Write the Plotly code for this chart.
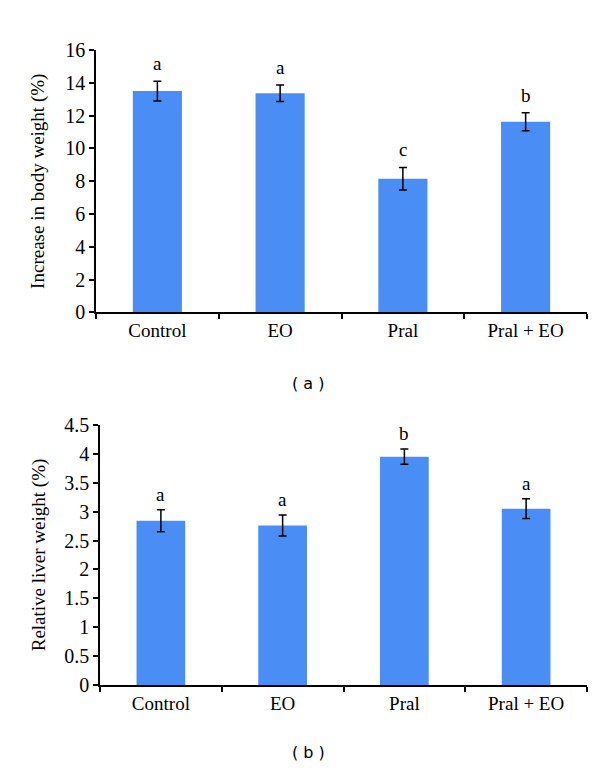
import plotly.graph_objects as go

categories = ["Control", "EO", "Pral", "Pral + EO"]

body_weight = [13.5, 13.37, 8.15, 11.63]
body_weight_err = [0.6, 0.5, 0.69, 0.55]
body_weight_letters = ["a", "a", "c", "b"]

liver_weight = [2.84, 2.76, 3.95, 3.05]
liver_weight_err = [0.19, 0.18, 0.13, 0.17]
liver_weight_letters = ["a", "a", "b", "a"]

bar_color = "#4a8ef5"
serif = "Liberation Serif, Times New Roman, serif"
FS = 19

fig = go.Figure()

fig.add_trace(go.Bar(
    x=categories, y=body_weight, width=0.4,
    marker=dict(color=bar_color, line=dict(width=0)),
    error_y=dict(type="data", array=body_weight_err, color="black", thickness=1.5, width=4),
    xaxis="x", yaxis="y", showlegend=False,
))
fig.add_trace(go.Bar(
    x=categories, y=liver_weight, width=0.4,
    marker=dict(color=bar_color, line=dict(width=0)),
    error_y=dict(type="data", array=liver_weight_err, color="black", thickness=1.5, width=4),
    xaxis="x2", yaxis="y2", showlegend=False,
))

annotations = []
for c, v, e, t in zip(categories, body_weight, body_weight_err, body_weight_letters):
    annotations.append(dict(x=c, y=v + e, xref="x", yref="y", text=t, showarrow=False,
                            yanchor="bottom", yshift=5, font=dict(family=serif, size=FS, color="black")))
for c, v, e, t in zip(categories, liver_weight, liver_weight_err, liver_weight_letters):
    annotations.append(dict(x=c, y=v + e, xref="x2", yref="y2", text=t, showarrow=False,
                            yanchor="bottom", yshift=3, font=dict(family=serif, size=FS, color="black")))

annotations.append(dict(x=0.5, y=1 - 375 / 773, xref="paper", yref="paper", text="( a )",
                        yanchor="middle", showarrow=False,
                        font=dict(family="DejaVu Sans, Arial, sans-serif", size=16, color="black")))
annotations.append(dict(x=0.5, y=1 - 755 / 773, xref="paper", yref="paper", text="( b )",
                        yanchor="middle", showarrow=False,
                        font=dict(family="DejaVu Sans, Arial, sans-serif", size=16, color="black")))

axis_common = dict(showline=True, linecolor="black", linewidth=1.5, ticks="outside",
                   tickcolor="black", tickwidth=1.5, showgrid=False, zeroline=False)
xfont = dict(family=serif, size=FS, color="black")
yfont = dict(family=serif, size=20, color="black")

fig.update_layout(
    width=600, height=773,
    margin=dict(l=0, r=0, t=0, b=0),
    paper_bgcolor="white", plot_bgcolor="white",
    annotations=annotations,
    xaxis=dict(domain=[88 / 600, 579 / 600], anchor="y", type="category",
               range=[-0.5, 3.5], tickson="boundaries", ticklen=5, tickfont=xfont, **axis_common),
    yaxis=dict(domain=[1 - 302 / 773, 1 - 32 / 773], anchor="x", range=[0, 16], dtick=2,
               ticklen=5, tickfont=yfont,
               title=dict(text="Increase in body weight (%)", font=dict(family=serif, size=FS, color="black"),
                          standoff=16),
               **axis_common),
    xaxis2=dict(domain=[92 / 600, 579 / 600], anchor="y2", type="category",
                range=[-0.5, 3.5], tickson="boundaries", ticklen=5, tickfont=xfont, **axis_common),
    yaxis2=dict(domain=[1 - 685.7 / 773, 1 - 417.7 / 773], anchor="x2", range=[0, 4.5], dtick=0.5,
                ticklen=5, tickfont=yfont,
                title=dict(text="Relative liver weight (%)", font=dict(family=serif, size=FS, color="black"),
                           standoff=14),
                **axis_common),
)

fig.write_html("out.html")
